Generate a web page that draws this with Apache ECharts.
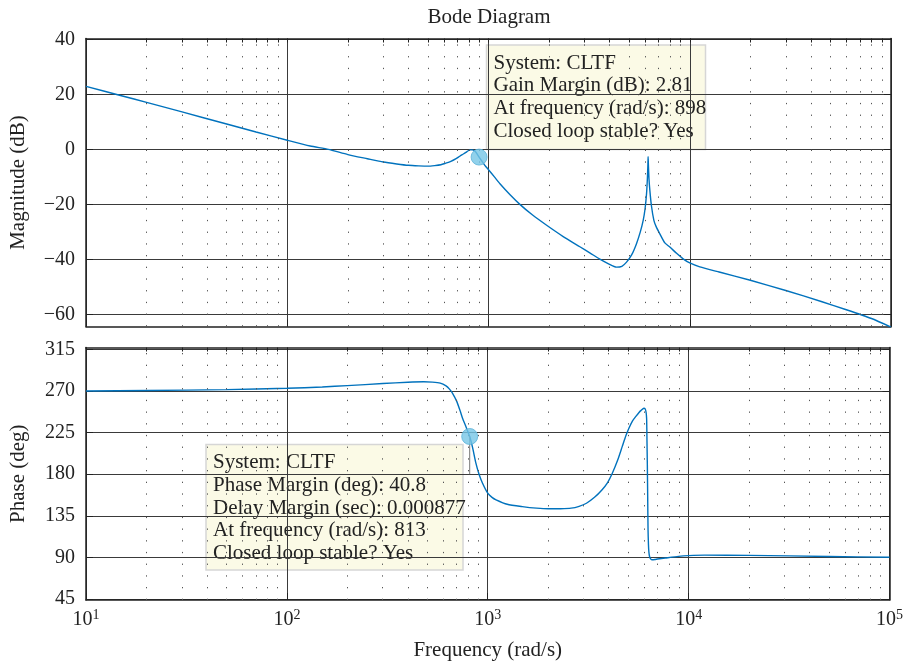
<!DOCTYPE html>
<html>
<head>
<meta charset="utf-8">
<script src="https://cdn.jsdelivr.net/npm/echarts@6/dist/echarts.min.js"></script>
<style>
  html, body { margin: 0; padding: 0; background: #fff; }
  #chart { width: 906px; height: 667px; }
</style>
</head>
<body>
<div id="chart"></div>
<script>
// magnitude curve (rad/s, dB)
const magFreq = [10, 15, 20, 30, 50, 70, 100, 130, 160, 200, 250, 300, 350, 400, 450, 500, 540, 580, 610, 650, 690, 720, 750, 780, 808, 830, 860, 880, 898, 920, 959, 1000, 1070, 1140, 1280, 1432, 1650, 1945, 2350, 2844, 3200, 3574, 3950, 4325, 4600, 4852, 5150, 5437, 5680, 5870, 6000, 6100, 6160, 6195, 6210, 6230, 6270, 6335, 6450, 6634, 6800, 7100, 7520, 7960, 8600, 9270, 10000, 11220, 14000, 20000, 30000, 45000, 60000, 80000, 100000];
const magDb = [22.9, 19.5, 17.1, 13.6, 9.2, 6.3, 3.3, 1.2, 0, -1.9, -3.4, -4.6, -5.3, -5.8, -6.0, -6.1, -5.9, -5.6, -5.1, -4.4, -3.4, -2.5, -1.7, -0.9, -0.2, -0.2, -0.8, -1.8, -2.81, -3.9, -5.8, -7.4, -10, -12.5, -16.5, -20, -23.8, -27.6, -31.7, -35.4, -37.7, -39.9, -41.6, -42.8, -42.5, -41, -38.3, -34.3, -30, -25.8, -21.5, -16.1, -10.5, -5.5, -2.7, -5.5, -10.5, -14.9, -20.5, -25.8, -28, -30.7, -34.0, -35.5, -37.8, -39.8, -41.3, -42.7, -44.6, -47.6, -51.3, -55.3, -58.3, -61.5, -64.6];

// phase curve (rad/s, deg)
const phFreq = [10, 20, 50, 100, 150, 200, 300, 400, 480, 530, 580, 620, 645, 668, 700, 730, 749, 780, 813, 840, 873, 905, 942, 1000, 1050, 1100, 1250, 1486, 1750, 2000, 2300, 2600, 2850, 3100, 3400, 3700, 3950, 4170, 4430, 4670, 4870, 5050, 5250, 5450, 5650, 5800, 5990, 6080, 6140, 6180, 6205, 6230, 6255, 6280, 6310, 6340, 6390, 6470, 6580, 6800, 7000, 7650, 8900, 10000, 12000, 20000, 50000, 100000];
const phDeg = [270, 270.5, 271.5, 272.9, 274.3, 275.8, 278, 279.5, 280, 279.6, 278.5, 275.5, 272, 267.5, 259, 248, 240.5, 231, 220.8, 209, 192, 180, 170.3, 159.5, 155, 152.3, 147.5, 145, 143.3, 142.6, 142.7, 143.3, 145.3, 148.6, 155, 163, 171, 181, 195, 209.8, 221.5, 230, 237.5, 242.2, 246.5, 249, 251.3, 250.5, 247, 240, 215, 190, 155, 120, 104, 96, 91, 88.5, 87.5, 87.8, 88.3, 89.4, 91.2, 92, 92.5, 92.3, 91, 90.2];

// margin markers
const gmPoint = [898, -2.81];
const pmPoint = [813, 220.8];
const gmText = ['System: CLTF', 'Gain Margin (dB): 2.81', 'At frequency (rad/s): 898', 'Closed loop stable? Yes'];
const pmText = ['System: CLTF', 'Phase Margin (deg): 40.8', 'Delay Margin (sec): 0.000877', 'At frequency (rad/s): 813', 'Closed loop stable? Yes'];

// tick values
const magTicks = [-60, -40, -20, 0, 20, 40];
const phTicks = [45, 90, 135, 180, 225, 270, 315];
const decades = [10, 100, 1000, 10000, 100000];
const minorX = [];
for (let d = 10; d < 100000; d *= 10) {
  for (let k = 2; k <= 9; k++) minorX.push(k * d);
}

const FONT = "Liberation Serif";
const lineBlue = "#0072bd";

let myChart = echarts.init(document.getElementById("chart"));

function yLabel(v) {
  return String(v).replace("-", "\u2212");
}

function xAxisPair(grid, showLabels) {
  return [
    {
      type: "log", logBase: 10, gridIndex: grid, min: 10, max: 100000, position: "bottom",
      axisLine: { show: true, onZero: false, lineStyle: { color: "#222", width: 1.5 } },
      axisTick: { show: true, inside: true, length: 7, lineStyle: { color: "#222" } },
      splitLine: { show: true, lineStyle: { color: "#3a3a3a", width: 1 } },
      axisLabel: {
        show: showLabels, margin: 8, fontFamily: FONT, color: "#222",
        formatter: function (v) {
          return "{n|10}{s|" + Math.round(Math.log10(v)) + "}";
        },
        rich: {
          n: { fontSize: 20, fontFamily: FONT, color: "#222" },
          s: { fontSize: 14, fontFamily: FONT, color: "#222", verticalAlign: "bottom", padding: [0, 0, 9, 0] }
        }
      },
      name: showLabels ? "Frequency (rad/s)" : "",
      nameLocation: "middle", nameGap: 40,
      nameTextStyle: { fontFamily: FONT, fontSize: 21, color: "#222" }
    },
    {
      type: "log", logBase: 10, gridIndex: grid, min: 10, max: 100000, position: "top",
      axisLine: { show: true, onZero: false, lineStyle: { color: "#222", width: 1.5 } },
      axisTick: { show: true, inside: true, length: 4, customValues: minorX.concat(decades), lineStyle: { color: "#222" } },
      splitLine: { show: false },
      axisLabel: { show: false }
    }
  ];
}

function yAxisPair(grid, min, max, ticks, name) {
  return [
    {
      type: "value", gridIndex: grid, min: min, max: max, position: "left",
      axisLine: { show: true, onZero: false, lineStyle: { color: "#222", width: 1.5 } },
      axisTick: { show: true, inside: true, length: 7, customValues: ticks, lineStyle: { color: "#222" } },
      splitLine: { show: true, lineStyle: { color: "#3a3a3a", width: 1 } },
      axisLabel: {
        customValues: ticks, margin: 11, fontFamily: FONT, fontSize: 20, color: "#222",
        formatter: yLabel
      },
      name: name, nameLocation: "middle", nameGap: 57,
      nameTextStyle: { fontFamily: FONT, fontSize: 21, color: "#222" }
    },
    {
      type: "value", gridIndex: grid, min: min, max: max, position: "right",
      axisLine: { show: true, onZero: false, lineStyle: { color: "#222", width: 1.5 } },
      axisTick: { show: true, inside: true, length: 7, customValues: ticks, lineStyle: { color: "#222" } },
      splitLine: { show: false },
      axisLabel: { show: false }
    }
  ];
}

function minorLines() {
  return {
    silent: true, symbol: "none", animation: false,
    label: { show: false },
    lineStyle: { type: [1.3, 10.4], color: "#555", width: 1 },
    emphasis: { disabled: true },
    data: minorX.map(function (v) { return { xAxis: v }; })
  };
}

function tipBox(x, y, w, h, lines) {
  return {
    type: "group", x: x, y: y, z: 100,
    children: [
      { type: "rect", shape: { x: 0, y: 0, width: w, height: h }, style: { fill: "#fbfae6", stroke: "#d6d6d6", lineWidth: 1.5 } },
      { type: "text", x: 7, y: 7, style: { text: lines.join("\n"), font: "21px '" + FONT + "'", fill: "#222", lineHeight: 22.6 } }
    ]
  };
}

let option = {
  animation: false,
  backgroundColor: "#fff",
  title: {
    text: "Bode Diagram", left: 484, top: 2, textAlign: "center",
    textStyle: { fontFamily: FONT, fontSize: 21, fontWeight: "normal", color: "#222" }
  },
  grid: [
    { left: 86, right: 15, top: 38.5, height: 288 },
    { left: 86, right: 15, top: 347.5, height: 252.5 }
  ],
  xAxis: xAxisPair(0, false).concat(xAxisPair(1, true)),
  yAxis: yAxisPair(0, -64.4, 40.3, magTicks, "Magnitude (dB)").concat(yAxisPair(1, 44, 317, phTicks, "Phase (deg)")),
  series: [
    {
      type: "line", xAxisIndex: 0, yAxisIndex: 0, showSymbol: false, smooth: 0.2,
      lineStyle: { color: lineBlue, width: 1.4 }, itemStyle: { color: lineBlue },
      data: magFreq.map(function (f, i) { return [f, magDb[i]]; }),
      markLine: minorLines()
    },
    {
      type: "line", xAxisIndex: 2, yAxisIndex: 2, showSymbol: false, smooth: 0.2,
      lineStyle: { color: lineBlue, width: 1.4 }, itemStyle: { color: lineBlue },
      data: phFreq.map(function (f, i) { return [f, phDeg[i]]; }),
      markLine: minorLines()
    },
    {
      // datatip stem
      type: "line", xAxisIndex: 2, yAxisIndex: 2, showSymbol: false,
      lineStyle: { color: "#777", width: 1 },
      data: [pmPoint, [pmPoint[0], 180]]
    },
    {
      type: "scatter", xAxisIndex: 0, yAxisIndex: 0, symbolSize: 16, z: 5,
      itemStyle: { color: "#76c5e6", borderColor: "#5cb3da", borderWidth: 1 },
      data: [gmPoint]
    },
    {
      type: "scatter", xAxisIndex: 2, yAxisIndex: 2, symbolSize: 16, z: 5,
      itemStyle: { color: "#76c5e6", borderColor: "#5cb3da", borderWidth: 1 },
      data: [pmPoint]
    }
  ],
  graphic: [
    tipBox(486.5, 45, 219, 104.5, gmText),
    tipBox(206, 444.5, 257, 125.5, pmText)
  ]
};

if (option && typeof option === "object") myChart.setOption(option);
</script>
</body>
</html>
